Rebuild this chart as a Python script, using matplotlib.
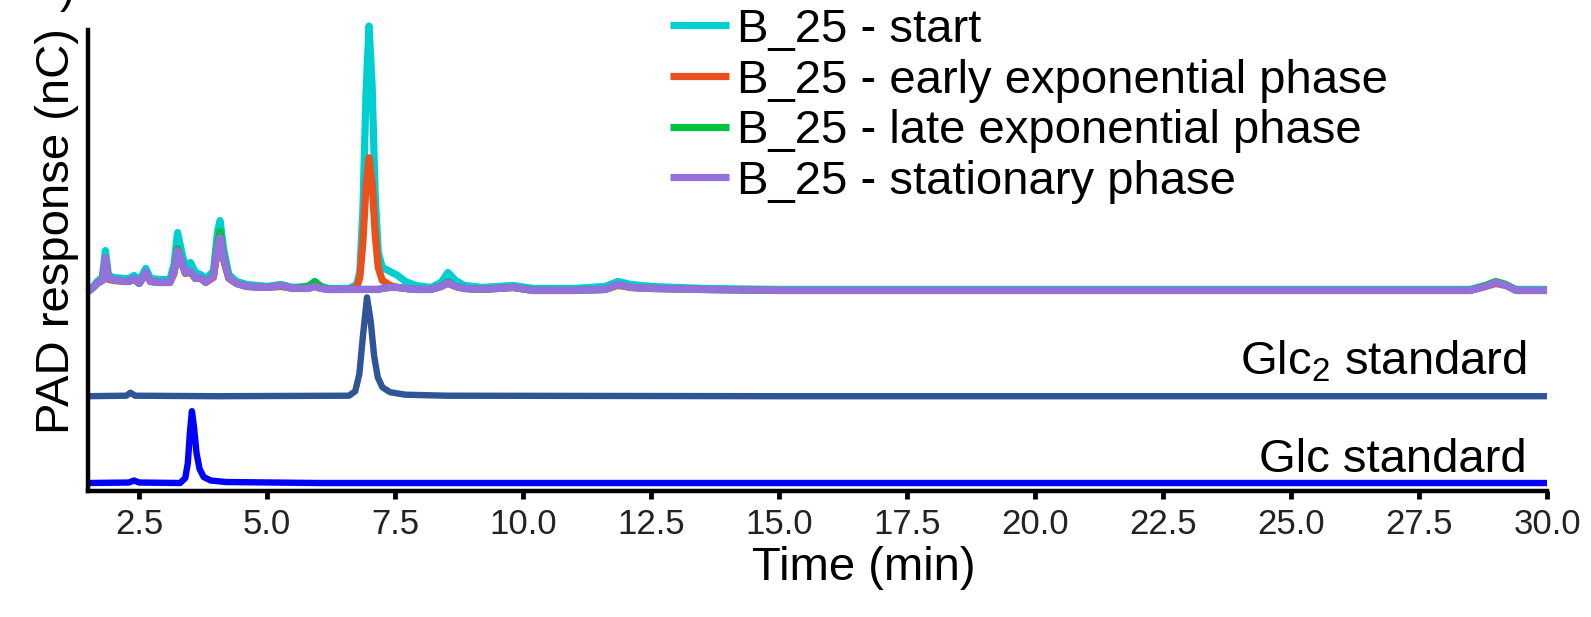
import matplotlib
matplotlib.use("Agg")
import matplotlib.pyplot as plt

plt.rcParams["font.family"] = ["Liberation Sans", "DejaVu Sans"]

# retention time grid shared by the four culture samples (min)
t_sample = [1.50, 1.60, 1.70, 1.78, 1.84, 1.90, 2.00, 2.20, 2.30, 2.40,
            2.50, 2.63, 2.72, 2.90, 3.10, 3.18, 3.25, 3.32, 3.40, 3.50,
            3.60, 3.70, 3.80, 3.95, 4.03, 4.08, 4.15, 4.25, 4.40, 4.60,
            5.00, 5.27, 5.50, 5.80, 5.93, 6.05, 6.20, 6.60, 6.75, 6.81,
            6.87, 6.93, 6.99, 7.05, 7.11, 7.17, 7.25, 7.40, 7.55, 7.70,
            7.90, 8.20, 8.40, 8.53, 8.68, 8.85, 9.20, 9.80, 10.20, 11.00,
            11.60, 11.85, 12.10, 12.50, 13.50, 15.00, 20.00, 23.60, 25.00, 28.50,
            28.80, 29.00, 29.20, 29.40, 30.00]

y_start = [-0.1, 0.4, 1.0, 1.3, 4.0, 1.5, 1.3, 1.2, 1.2, 1.5,
           1.0, 2.2, 1.2, 1.1, 1.1, 2.6, 5.8, 4.1, 2.3, 2.8,
           1.8, 1.6, 1.2, 1.9, 5.9, 7.0, 4.1, 1.6, 0.9, 0.6,
           0.4, 0.6, 0.3, 0.4, 0.8, 0.4, 0.2, 0.2, 0.6, 1.9,
           8.1, 19.7, 26.5, 20.5, 9.5, 3.8, 2.3, 1.9, 1.5, 0.9,
           0.5, 0.3, 0.8, 1.8, 1.0, 0.5, 0.3, 0.5, 0.2, 0.2,
           0.4, 0.9, 0.6, 0.4, 0.2, 0.1, 0.1, 0.1, 0.1, 0.1,
           0.5, 0.8, 0.5, 0.1, 0.1]

y_early = [-0.1, 0.3, 0.8, 1.0, 3.1, 1.1, 1.0, 0.9, 0.9, 1.1,
           0.7, 1.7, 0.9, 0.8, 0.8, 1.7, 3.8, 2.9, 1.7, 1.8,
           1.2, 1.2, 0.8, 1.3, 4.1, 5.0, 3.0, 1.2, 0.7, 0.4,
           0.3, 0.4, 0.2, 0.2, 0.4, 0.2, 0.1, 0.1, 0.3, 1.3,
           4.9, 10.4, 13.3, 10.8, 5.6, 2.3, 1.0, 0.5, 0.3, 0.2,
           0.1, 0.1, 0.4, 0.7, 0.4, 0.2, 0.1, 0.3, 0.0, 0.0,
           0.1, 0.5, 0.3, 0.2, 0.1, 0.0, 0.0, 0.0, 0.0, 0.0,
           0.4, 0.7, 0.5, 0.0, 0.0]

y_late = [-0.1, 0.3, 0.8, 1.0, 3.3, 1.2, 1.1, 0.9, 0.9, 1.2,
          0.7, 1.8, 0.9, 0.8, 0.8, 1.9, 4.2, 3.1, 1.8, 1.9,
          1.2, 1.3, 0.8, 1.5, 4.8, 5.9, 3.5, 1.3, 0.7, 0.4,
          0.3, 0.5, 0.2, 0.4, 0.9, 0.4, 0.1, 0.1, 0.1, 0.1,
          0.1, 0.1, 0.1, 0.1, 0.1, 0.1, 0.2, 0.3, 0.3, 0.2,
          0.1, 0.1, 0.4, 0.9, 0.4, 0.2, 0.1, 0.3, 0.0, 0.0,
          0.1, 0.6, 0.3, 0.2, 0.1, 0.0, 0.0, 0.0, 0.0, 0.0,
          0.5, 0.9, 0.6, 0.0, 0.0]

y_stat = [-0.1, 0.3, 0.8, 1.0, 3.3, 1.2, 1.1, 0.9, 0.9, 1.2,
          0.7, 1.8, 0.9, 0.8, 0.8, 1.8, 4.0, 3.0, 1.8, 1.9,
          1.2, 1.3, 0.8, 1.4, 4.3, 5.3, 3.2, 1.3, 0.7, 0.4,
          0.3, 0.5, 0.2, 0.2, 0.4, 0.2, 0.1, 0.1, 0.1, 0.1,
          0.1, 0.1, 0.1, 0.1, 0.1, 0.1, 0.2, 0.3, 0.3, 0.2,
          0.1, 0.1, 0.4, 0.8, 0.4, 0.2, 0.1, 0.3, 0.0, 0.0,
          0.1, 0.6, 0.3, 0.2, 0.1, 0.0, 0.0, 0.0, 0.0, 0.0,
          0.4, 0.8, 0.5, 0.0, 0.0]

# standards
t_glc2 = [1.50, 2.25, 2.33, 2.42, 4.00, 6.60, 6.72, 6.80, 6.87, 6.95,
          7.02, 7.09, 7.16, 7.25, 7.40, 7.70, 8.50, 15.00, 30.00]
y_glc2 = [0.0, 0.05, 0.35, 0.05, 0.0, 0.05, 0.5, 2.2, 6.0, 9.9,
          7.6, 4.0, 1.9, 0.9, 0.4, 0.15, 0.05, 0.0, 0.0]

t_glc = [1.50, 2.30, 2.40, 2.50, 3.30, 3.40, 3.45, 3.49, 3.53, 3.57,
         3.62, 3.68, 3.76, 3.90, 4.20, 6.00, 30.00]
y_glc = [0.0, 0.05, 0.25, 0.05, 0.0, 0.5, 2.0, 5.0, 7.2, 5.6,
         3.0, 1.4, 0.6, 0.25, 0.1, 0.0, 0.0]

labels = ["B_25 - start", "B_25 - early exponential phase",
          "B_25 - late exponential phase", "B_25 - stationary phase"]
colors = ["#00CED1", "#E8501E", "#00C040", "#9370DB"]

# vertical stacking of the traces
off_sample = 20.1
off_glc2 = 9.5
off_glc = 0.8

fig = plt.figure(figsize=(15.91, 6.17), dpi=100)
ax = fig.add_axes([88 / 1591, 126 / 617, 1459 / 1591, 461 / 617])

lines = []
for ys, c, lab in zip([y_start, y_early, y_late, y_stat], colors, labels):
    ln, = ax.plot(t_sample, [v + off_sample for v in ys], color=c, lw=5.2,
                  label=lab, clip_on=False, solid_joinstyle="round",
                  solid_capstyle="butt")
    lines.append(ln)

ax.plot(t_glc2, [v + off_glc2 for v in y_glc2], color="#2F5597", lw=4.6,
        solid_joinstyle="round", solid_capstyle="butt", clip_on=False)
ax.plot(t_glc, [v + off_glc for v in y_glc], color="#0000FF", lw=4.6,
        solid_joinstyle="round", solid_capstyle="butt", clip_on=False)

ax.text(29.6, off_glc2 + 2.2, "Glc$_\\mathregular{2}$ standard", ha="right",
        va="baseline", fontsize=34)
ax.text(29.6, off_glc + 1.1, "Glc standard", ha="right", va="baseline",
        fontsize=34)

ax.set_xlim(1.5, 30)
ax.set_ylim(0, 46.2)
ax.set_xticks([2.5, 5.0, 7.5, 10.0, 12.5, 15.0, 17.5, 20.0, 22.5, 25.0, 27.5, 30.0])
ax.set_xticklabels(["2.5", "5.0", "7.5", "10.0", "12.5", "15.0", "17.5",
                    "20.0", "22.5", "25.0", "27.5", "30.0"])
ax.set_yticks([])
ax.tick_params(axis="x", direction="out", length=6, width=3.5, pad=6.5,
               labelsize=25, labelcolor="#222222")
for s in ["top", "right"]:
    ax.spines[s].set_visible(False)
for s in ["left", "bottom"]:
    ax.spines[s].set_linewidth(3.2)

ax.set_xlabel("Time (min)", fontsize=34)
ax.xaxis.set_label_coords(0.532, -0.119)
ax.set_ylabel("PAD response (nC)", fontsize=34)
ax.yaxis.set_label_coords(-0.006, 0.563)

fig.legend(handles=lines, labels=labels, loc="upper left",
           bbox_to_anchor=(670 / 1591, 0.987), frameon=False, fontsize=34,
           handlelength=1.25, handletextpad=0.17, labelspacing=0.14,
           borderpad=0.0, borderaxespad=0.0)

# tail of the panel letter cut off at the top edge
fig.text(60 / 1591, 1 - 12 / 617, ")", fontsize=33, ha="left", va="bottom")

fig.savefig("out.png", dpi=100)
